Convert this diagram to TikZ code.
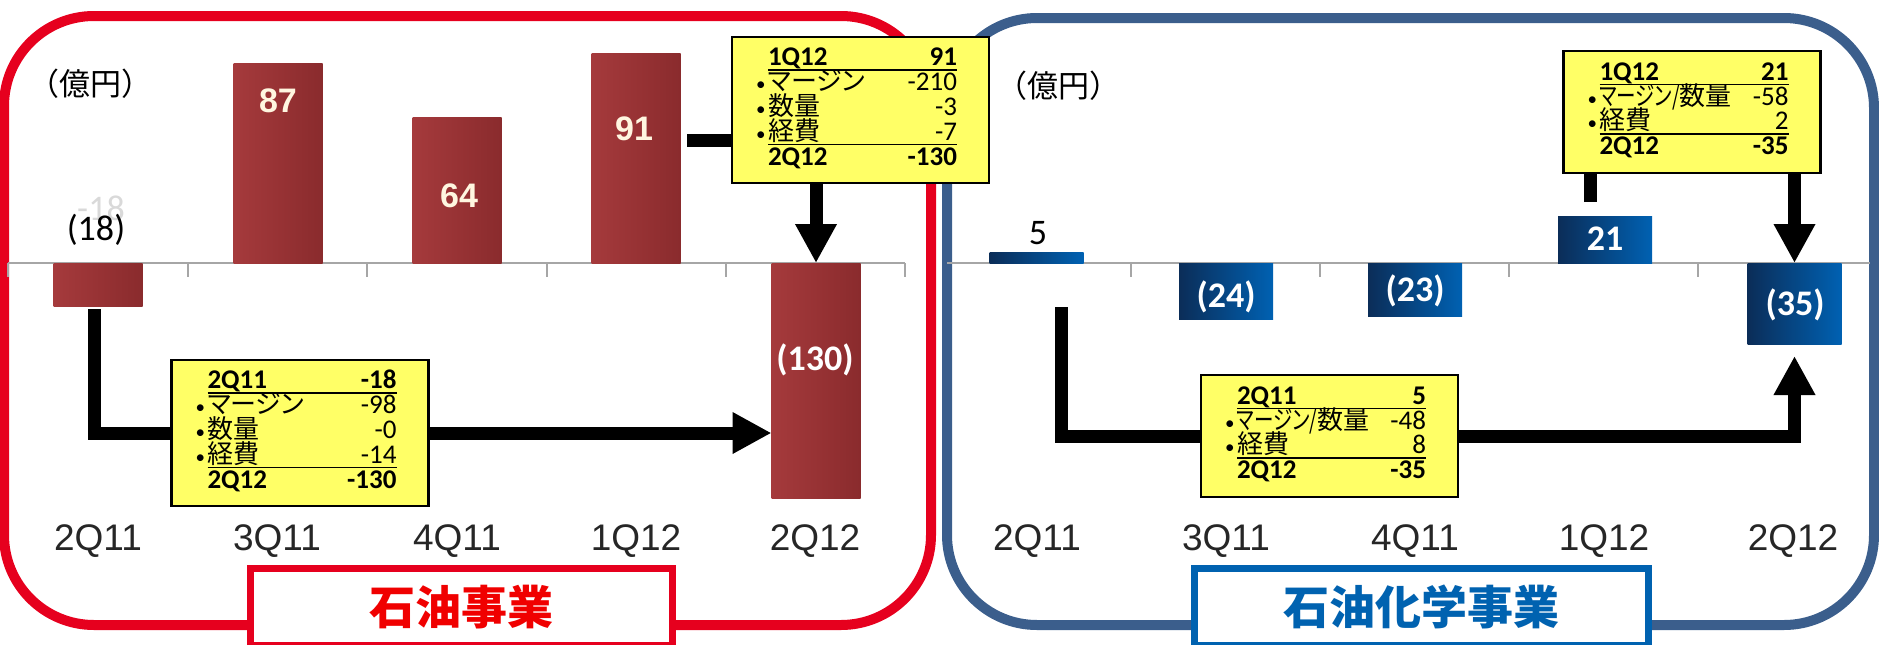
\documentclass[tikz,border=0pt]{standalone}
\usepackage{fontspec}
\usepackage{graphicx}
\setmainfont{Carlito}
\newfontfamily\arialf{Liberation Sans}
\newfontfamily\jp{Noto Sans CJK JP}
\newfontfamily\jpp{Noto Sans CJK JP}[RawFeature=+palt]
\usetikzlibrary{arrows.meta}

\definecolor{oilred}{HTML}{E6001E}
\definecolor{titlered}{HTML}{F00000}
\definecolor{chemframe}{HTML}{3B5E8C}
\definecolor{chemblue}{HTML}{0062B0}
\definecolor{boxyellow}{HTML}{FFFF66}
\definecolor{barhi}{HTML}{C84E4E}
\definecolor{barlo}{HTML}{A53A3C}
\definecolor{bardk}{HTML}{8A2B2D}
\definecolor{navydk}{HTML}{0B2D58}
\definecolor{navyhi}{HTML}{0061B2}
\definecolor{cream}{HTML}{FFF6E0}

\newcommand{\sumfont}{\fontsize{27}{24.8}\selectfont\lineskiplimit=-200pt\relax}
\newcommand{\ja}[1]{{\jpp\fontsize{26}{24.8}\selectfont #1}}
\newcommand{\dotb}{{\fontsize{19}{19}\selectfont\hspace{1pt}•}}
\newcommand{\qrow}[3]{\makebox[13pt][l]{#1}\makebox[189pt][s]{#2\hfill #3}\hspace{9pt}\rule[-13pt]{0pt}{37pt}}
\newcommand{\uline}{\rlap{\hspace{13pt}\rule[-5pt]{189pt}{1.8pt}}}

\begin{document}
\begin{tikzpicture}[x=1pt,y=-1pt,
  frame/.style={line width=10pt,rounded corners=90pt},
  axisline/.style={draw=black!35,line width=2pt},
  redbar/.style={left color=barlo,middle color=barhi,right color=bardk,inner sep=0pt,outer sep=0pt,minimum width=89pt},
  bluebar/.style={left color=navydk,middle color=navydk,right color=navyhi,inner sep=0pt,outer sep=0pt,minimum width=94pt},
  barnum/.style={font=\fontsize{36}{36}\selectfont\bfseries,text=white,inner sep=0pt},
  glownum/.style={font=\arialf\bfseries\fontsize{34}{34}\selectfont,text=cream,inner sep=0pt},
  plainnum/.style={font=\fontsize{36}{36}\selectfont,inner sep=0pt},
  catlabel/.style={font=\arialf\fontsize{37}{37}\selectfont,text=black!85,inner sep=0pt},
  unitlabel/.style={font=\jp\fontsize{31}{31}\selectfont,inner sep=0pt},
  sumbox/.style={draw=black,line width=2.5pt,fill=boxyellow,inner sep=0pt,minimum width=257pt,align=left,font=\sumfont},
  link/.style={draw=black,line width=13pt},
  bigarrow/.style={draw=black,line width=13pt,-{Triangle[length=39pt,width=39pt]}},
  titlebox/.style={fill=white,line width=7pt,inner sep=0pt,minimum height=76.5pt,font=\jp\bfseries\fontsize{46}{46}\selectfont}]
  \useasboundingbox (0,0) rectangle (1879,645);

  \draw[frame,draw=oilred] (4,16) rectangle (931,625);
  \draw[frame,draw=chemframe] (947,18) rectangle (1874,625);

  \draw[axisline] (8,263) -- (905,263) (8,263) -- (8,277) (188,263) -- (188,277)
    (367,263) -- (367,277) (547,263) -- (547,277) (726,263) -- (726,277) (905,263) -- (905,277);
  \draw[axisline] (947,263) -- (1870,263) (1131,263) -- (1131,277) (1320,263) -- (1320,277)
    (1509,263) -- (1509,277) (1698,263) -- (1698,277);

  \node[unitlabel] (u1) at (90,84) {（億円）};
  \node[unitlabel] (u2) at (1058,86) {（億円）};

  \node[redbar,minimum height=43pt] (a1) at (98,284.5) {};
  \node[redbar,minimum height=200pt] (a2) at (278,163) {};
  \node[redbar,minimum height=146pt] (a3) at (457,190) {};
  \node[redbar,minimum height=210pt] (a4) at (636,158) {};
  \node[redbar,minimum height=235pt] (a5) at (816,380.5) {};

  \node[bluebar,minimum height=11pt] (b1) at (1036.5,257.5) {};
  \node[bluebar,minimum height=56pt] (b2) at (1226,291) {};
  \node[bluebar,minimum height=53pt] (b3) at (1415,289.5) {};
  \node[bluebar,minimum height=47pt] (b4) at (1605,239.5) {};
  \node[bluebar,minimum height=81pt] (b5) at (1794.5,303.5) {};

  \node[plainnum,text=black!15] (ga1) at (101,208) {-18};
  \node[plainnum] (na1) at (96,230) {(18)};
  \node[glownum] (na2) at (278,101) {87};
  \node[glownum] (na3) at (459,196) {64};
  \node[glownum] (na4) at (634,129) {91};
  \node[barnum] (na5) at (815,360) {(130)};

  \node[plainnum] (nb1) at (1038,233) {5};
  \node[barnum] (nb2) at (1226,297) {(24)};
  \node[barnum] (nb3) at (1415,291) {(23)};
  \node[barnum] (nb4) at (1605,239) {21};
  \node[barnum] (nb5) at (1795,305) {(35)};

  \node[catlabel] (ca1) at (98,541) {2Q11};
  \node[catlabel] (ca2) at (277,541) {3Q11};
  \node[catlabel] (ca3) at (457,541) {4Q11};
  \node[catlabel] (ca4) at (636,541) {1Q12};
  \node[catlabel] (ca5) at (815,541) {2Q12};
  \node[catlabel] (cb1) at (1037,541) {2Q11};
  \node[catlabel] (cb2) at (1226,541) {3Q11};
  \node[catlabel] (cb3) at (1415,541) {4Q11};
  \node[catlabel] (cb4) at (1604,541) {1Q12};
  \node[catlabel] (cb5) at (1793,541) {2Q12};

  \coordinate (p1) at (94,309);
  \coordinate (p2) at (687,140);
  \coordinate (p3) at (1061,307);
  \coordinate (p4) at (1590,202);

  \node[sumbox,minimum height=146pt] (sA) at (300,433) {\uline\qrow{}{\textbf{2Q11}}{\textbf{-18}}\\
    \qrow{\dotb}{\ja{マージン}}{-98}\\ \qrow{\dotb}{\ja{数量}}{-0}\\
    \uline\qrow{\dotb}{\ja{経費}}{-14}\\ \qrow{}{\textbf{2Q12}}{\textbf{-130}}};
  \node[sumbox,minimum height=146pt] (s1) at (860.5,110) {\uline\qrow{}{\textbf{1Q12}}{\textbf{91}}\\
    \qrow{\dotb}{\ja{マージン}}{-210}\\ \qrow{\dotb}{\ja{数量}}{-3}\\
    \uline\qrow{\dotb}{\ja{経費}}{-7}\\ \qrow{}{\textbf{2Q12}}{\textbf{-130}}};
  \node[sumbox,minimum height=122pt] (sB) at (1329.5,436) {\uline\qrow{}{\textbf{2Q11}}{\textbf{5}}\\
    \qrow{\dotb}{\ja{\scalebox{0.75}[1]{マージン/}数量}}{-48}\\
    \uline\qrow{\dotb}{\ja{経費}}{8}\\ \qrow{}{\textbf{2Q12}}{\textbf{-35}}};
  \node[sumbox,minimum height=122pt] (s2) at (1692,112) {\uline\qrow{}{\textbf{1Q12}}{\textbf{21}}\\
    \qrow{\dotb}{\ja{\scalebox{0.75}[1]{マージン/}数量}}{-58}\\
    \uline\qrow{\dotb}{\ja{経費}}{2}\\ \qrow{}{\textbf{2Q12}}{\textbf{-35}}};

  \path (sA.east) edge[bigarrow] (sA.east -| a5.west)
        (p2) edge[link] (p2 -| s1.west)
        (s1.south -| a5.north) edge[bigarrow] (a5.north)
        (p4) edge[link] (p4 |- s2.south)
        (s2.south -| b5.north) edge[bigarrow] (b5.north);
  \draw[link] (p1) |- (sA.west);
  \draw[link] (p3) |- (sB.west);
  \draw[bigarrow] (sB.east) -| ([yshift=-12pt]b5.south);

  \node[titlebox,draw=oilred,text=titlered,minimum width=422pt] (oil) at (461.5,606.75) {石油事業};
  \node[titlebox,draw=chemblue,text=chemblue,minimum width=454pt] (chem) at (1421.5,606.75) {石油化学事業};
\end{tikzpicture}
\end{document}
